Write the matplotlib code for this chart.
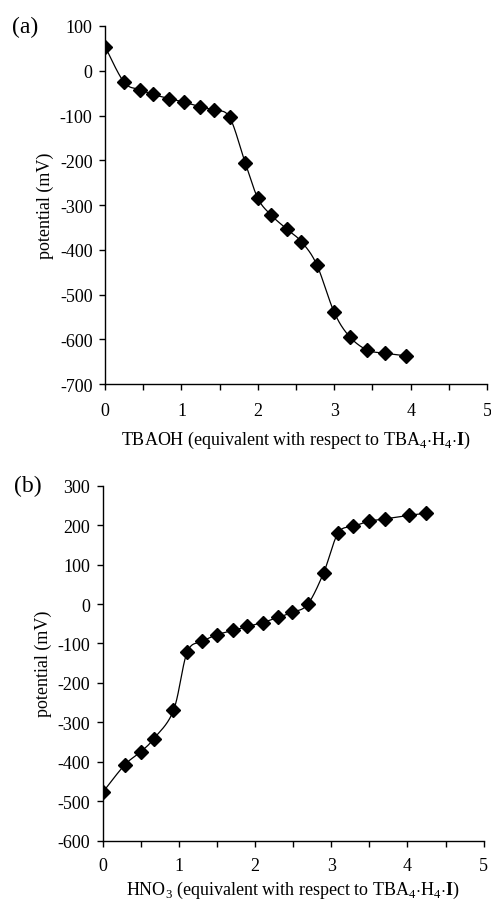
import matplotlib
matplotlib.use('Agg')
import matplotlib.pyplot as plt
import numpy as np

plt.rcParams['font.family'] = ['Liberation Serif', 'DejaVu Serif']
plt.rcParams['mathtext.fontset'] = 'custom'
plt.rcParams['mathtext.rm'] = 'Liberation Serif'
plt.rcParams['mathtext.bf'] = 'Liberation Serif:bold'
plt.rcParams['axes.unicode_minus'] = False

# (a) TBAOH titration
tbaoh_eq = [0.0, 0.25, 0.46, 0.625, 0.84, 1.03, 1.24, 1.43, 1.63, 1.835,
            2.0, 2.17, 2.38, 2.57, 2.77, 3.0, 3.2, 3.43, 3.66, 3.94]
tbaoh_mv = [54, -26, -42, -53, -62, -70, -80, -88, -104, -206,
            -285, -322, -354, -382, -433, -540, -594, -624, -631, -637]

# (b) HNO3 titration
hno3_eq = [0.0, 0.29, 0.50, 0.67, 0.93, 1.11, 1.31, 1.50, 1.71, 1.90,
           2.10, 2.30, 2.49, 2.69, 2.90, 3.09, 3.29, 3.50, 3.71, 4.02, 4.24]
hno3_mv = [-478, -408, -375, -342, -270, -122, -95, -78, -67, -57,
           -47, -34, -21, -1, 79, 180, 197, 210, 216, 225, 230]


def smooth(x, y, xr, yr, n=30):
    # Catmull-Rom through the points (like a spreadsheet "smoothed line")
    p = np.column_stack([np.asarray(x) / xr, np.asarray(y) / yr])
    p = np.vstack([p[0], p, p[-1]])
    out = []
    t = np.linspace(0, 1, n)[:, None]
    for i in range(1, len(p) - 2):
        p0, p1, p2, p3 = p[i - 1], p[i], p[i + 1], p[i + 2]
        c1 = p1 + (p2 - p0) / 6
        c2 = p2 - (p3 - p1) / 6
        seg = ((1 - t) ** 3 * p1 + 3 * (1 - t) ** 2 * t * c1
               + 3 * (1 - t) * t ** 2 * c2 + t ** 3 * p2)
        out.append(seg)
    s = np.vstack(out)
    return s[:, 0] * xr, s[:, 1] * yr


def panel(ax, x, y, ylim, xlabel, tag, tag_x, xpad):
    sx, sy = smooth(x, y, 5.0, ylim[1] - ylim[0])
    ax.plot(sx, sy, color='black', lw=0.9)
    ax.plot(x, y, 'D', color='black', ms=7.5, mec='black')
    ax.set_xlim(0, 5)
    ax.set_ylim(*ylim)
    ax.set_xticks(range(6))
    ax.set_xticks(np.arange(0.5, 5, 1.0), minor=True)
    ax.set_yticks(np.arange(ylim[0], ylim[1] + 1, 100))
    ax.spines['top'].set_visible(False)
    ax.spines['right'].set_visible(False)
    for s in ('left', 'bottom'):
        ax.spines[s].set_linewidth(1.0)
    ax.tick_params(which='both', direction='out', length=4, width=1.0,
                   labelsize=13, pad=5)
    ax.tick_params(axis='x', pad=xpad)
    ax.set_ylabel('potential (mV)', fontsize=13, labelpad=4)
    ax.set_xlabel(xlabel, fontsize=13)
    ax.text(tag_x, 1.0, tag, transform=ax.transAxes, fontsize=17,
            ha='right', va='center')


fig = plt.figure(figsize=(4.91, 9.03), dpi=100)
ax1 = fig.add_axes([0.214, 0.5736, 0.778, 0.3965])
ax2 = fig.add_axes([0.209, 0.068, 0.776, 0.393])

panel(ax1, tbaoh_eq, tbaoh_mv, (-700, 100),
      r'TBAOH (equivalent with respect to TBA$_4$$\cdot$H$_4$$\cdot$$\mathbf{I}$)',
      '(a)', -0.175, 9)
ax1.xaxis.labelpad = 7
panel(ax2, hno3_eq, hno3_mv, (-600, 300),
      r'HNO$_3$ (equivalent with respect to TBA$_4$$\cdot$H$_4$$\cdot$$\mathbf{I}$)',
      '(b)', -0.16, 8)
ax2.xaxis.labelpad = 3

fig.savefig('out.png', dpi=100)
